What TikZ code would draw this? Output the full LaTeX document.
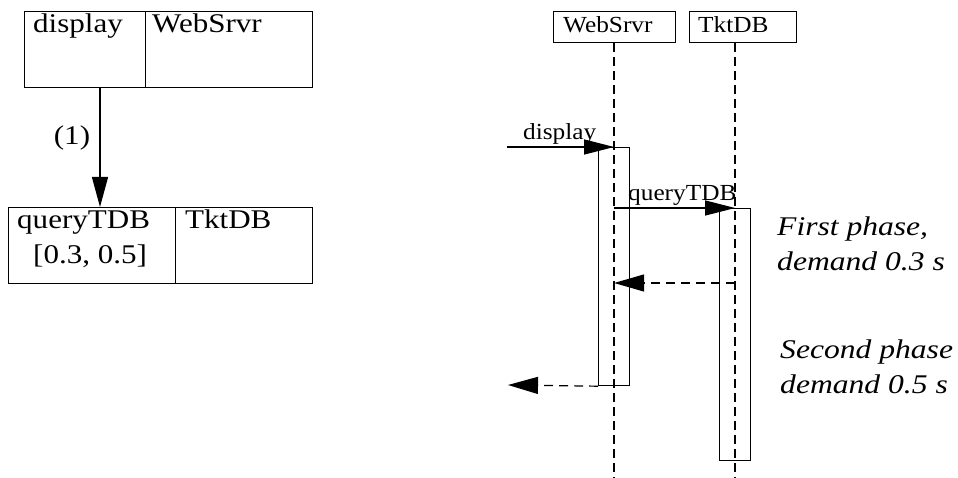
\documentclass[tikz,border=0pt]{standalone}
\usepackage{fontspec}
\setmainfont{Liberation Serif}[FakeStretch=1.15]
\newfontfamily\rfont{Liberation Serif}[FakeStretch=1.1]
\newfontfamily\phasefont{Liberation Serif}[FakeStretch=1.17]
\usetikzlibrary{arrows.meta}
\begin{document}
\begin{tikzpicture}[x=1pt,y=-1pt,
  cell/.style={draw,line width=1.2pt,anchor=north west,inner sep=0pt},
  bigtxt/.style={anchor=base west,inner sep=0pt,font=\fontsize{27}{35}\selectfont},
  smalltxt/.style={anchor=base west,inner sep=0pt,font=\rfont\fontsize{23}{26}\selectfont},
  phasetxt/.style={anchor=base west,inner sep=0pt,font=\phasefont\itshape\fontsize{27}{35}\selectfont},
  headbox/.style={draw,line width=1.2pt,anchor=north west,inner sep=0pt},
  actbox/.style={draw,line width=1.2pt,anchor=north west,inner sep=0pt,minimum width=31pt},
  lifeline/.style={line width=1.2pt,dash pattern=on 9pt off 5pt},
  msg/.style={line width=1.2pt,-{Triangle[length=30pt,width=15pt]}},
  reply/.style={line width=1.2pt,dash pattern=on 9pt off 6pt,-{Triangle[length=30pt,width=17pt]}}
]
\useasboundingbox (0,0) rectangle (958,478);
% ---------- left: task graph ----------
\node[cell,minimum width=121pt,minimum height=76pt] (c1) at (24,11) {};
\node[cell,minimum width=167pt,minimum height=76pt] (c2) at (145,11) {};
\node[cell,minimum width=167pt,minimum height=76pt] (q1) at (8,207) {};
\node[cell,minimum width=137pt,minimum height=76pt] (q2) at (175,207) {};
\node[bigtxt] (t1) at (33,33) {display};
\node[bigtxt] (t2) at (152,33) {WebSrvr};
\node[bigtxt] (t3) at (17,229) {queryTDB};
\node[bigtxt] (t3b) at (33,264) {[0.3, 0.5]};
\node[bigtxt] (t4) at (185,229) {TktDB};
\draw[line width=1.2pt,-{Triangle[length=30pt,width=16pt]}] ([xshift=76pt]c1.south west) -- ([xshift=92pt]q1.north west);
\node[bigtxt,anchor=center] (l1) at (72,138) {(1)};
% ---------- right: sequence diagram ----------
\node[headbox,minimum width=122pt,minimum height=31pt] (ws) at (553,11) {};
\node[headbox,minimum width=107pt,minimum height=31pt] (db) at (689,11) {};
\node[smalltxt] (wst) at (563,33) {WebSrvr};
\node[smalltxt] (dbt) at (698,33) {TktDB};
\node[actbox,minimum height=238pt] (a1) at (598,147) {};
\node[actbox,minimum height=252pt] (a2) at (719,208) {};
\coordinate (wsend) at (614,478);
\coordinate (dbend) at (735,478);
\draw[lifeline] (wsend |- ws.south) -- (wsend);
\draw[lifeline] (dbend |- db.south) -- (dbend);
\coordinate (src) at (507,147);
\coordinate (ret) at (508,385);
\coordinate (rep) at ([yshift=-75pt]a2.north);
\draw[msg] (src) -- (a1.north);
\node[smalltxt] (m1) at (523,140) {display};
\draw[msg] (a1.north |- a2.north) -- (a2.north);
\node[smalltxt] (m2) at (628,201) {queryTDB};
\draw[reply] (rep) -- (a1.north |- rep);
\draw[reply] (a1.south west) -- (ret);
\node[phasetxt] (p1) at (777,236) {First phase,};
\node[phasetxt] (p1b) at (777,271) {demand 0.3 s};
\node[phasetxt] (p2) at (780,358) {Second phase};
\node[phasetxt] (p2b) at (780,393) {demand 0.5 s};
\end{tikzpicture}
\end{document}
